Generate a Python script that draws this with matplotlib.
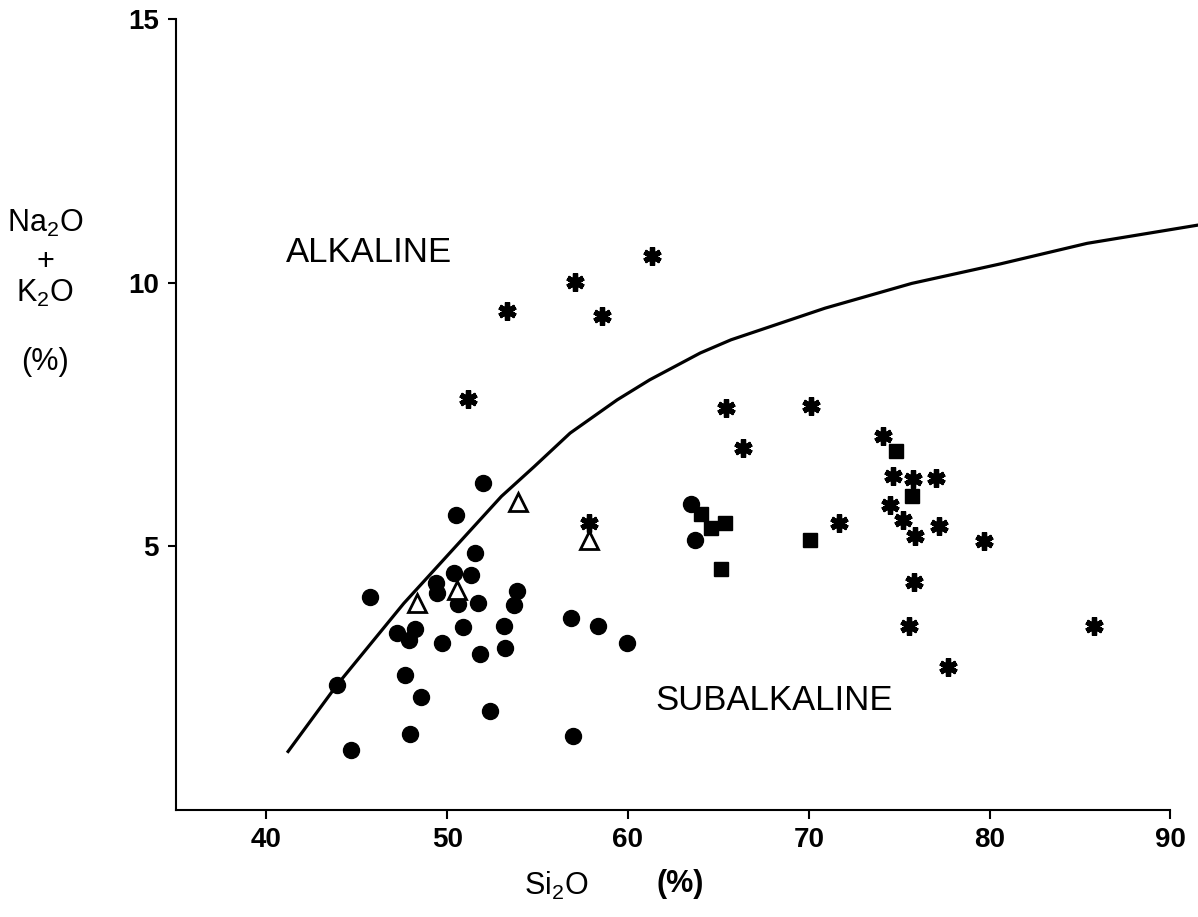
import matplotlib
matplotlib.use('Agg')
import matplotlib.pyplot as plt
from matplotlib.markers import MarkerStyle

plt.rcParams['font.family'] = ['Liberation Sans', 'DejaVu Sans']
plt.rcParams['mathtext.default'] = 'regular'

# dividing line alkaline / subalkaline
line_x = [41.2, 43.9, 47.6, 53.0, 54.8, 56.8, 59.4, 61.2, 64.0, 65.7, 70.9, 75.7, 80.6, 85.4, 91.6]
line_y = [1.11, 2.37, 3.92, 5.95, 6.51, 7.15, 7.78, 8.16, 8.67, 8.92, 9.52, 9.99, 10.36, 10.75, 11.10]

# filled circles
dot_x = [51.96, 50.49, 51.56, 50.36, 51.34, 49.40, 49.44, 50.60, 51.71, 53.87, 53.68, 45.71,
         47.23, 48.24, 47.91, 49.72, 50.86, 53.16, 53.22, 51.84, 56.85, 58.35, 59.95, 43.91,
         47.65, 48.57, 52.35, 47.96, 44.68, 56.94, 63.51, 63.73]
dot_y = [6.21, 5.60, 4.87, 4.49, 4.46, 4.30, 4.11, 3.90, 3.93, 4.16, 3.88, 4.04,
         3.36, 3.43, 3.23, 3.17, 3.47, 3.49, 3.07, 2.96, 3.65, 3.50, 3.17, 2.37,
         2.56, 2.15, 1.88, 1.44, 1.14, 1.40, 5.81, 5.12]

# open triangles
tri_x = [53.90, 57.86, 50.55, 48.34]
tri_y = [5.85, 5.12, 4.17, 3.92]

# filled squares
sq_x = [74.85, 75.73, 64.04, 65.39, 64.60, 70.09, 65.17]
sq_y = [6.81, 5.95, 5.62, 5.45, 5.35, 5.12, 4.57]

# asterisks
st_x = [61.33, 57.09, 53.31, 58.57, 51.13, 65.40, 70.13, 66.34, 74.11, 74.64, 75.75, 77.06,
        74.47, 75.19, 77.18, 75.90, 71.69, 57.83, 75.80, 75.53, 79.67, 85.80, 77.70]
st_y = [10.51, 10.02, 9.46, 9.37, 7.80, 7.62, 7.67, 6.86, 7.10, 6.34, 6.28, 6.29,
        5.79, 5.50, 5.39, 5.20, 5.44, 5.44, 4.32, 3.50, 5.10, 3.49, 2.72]

xticks = [40, 50, 60, 70, 80, 90]
yticks = [5, 10, 15]

fig = plt.figure(figsize=(11.98, 9.17), dpi=100)
ax = fig.add_axes([176/1198, 107/917, 1022/1198, 790.7/917])

ax.plot(line_x, line_y, color='black', lw=2.3)
ax.plot(dot_x, dot_y, 'o', color='black', ms=11.5, ls='none')
ax.plot(sq_x, sq_y, 's', color='black', ms=9.5, ls='none')
ax.plot(tri_x, tri_y, '^', mfc='white', mec='black', mew=2, ms=13, ls='none')
star = MarkerStyle((6, 2, 0), capstyle='round')
ax.plot(st_x, st_y, ls='none', marker=star, color='black', ms=13, mew=3.8)

ax.set_xlim(35, 91.53)
ax.set_ylim(0, 15)
ax.spines['top'].set_visible(False)
ax.spines['right'].set_visible(False)
ax.spines['bottom'].set_bounds(35, 90)
ax.spines['left'].set_linewidth(1.5)
ax.spines['bottom'].set_linewidth(1.5)

ax.set_xticks(xticks)
ax.set_xticklabels([str(t) for t in xticks], fontsize=20, fontweight='bold')
ax.set_yticks(yticks)
ax.set_yticklabels([str(t) for t in yticks], fontsize=20, fontweight='bold')
ax.tick_params(axis='x', direction='out', length=6.5, width=1.5, pad=6)
ax.tick_params(axis='y', direction='out', length=5.5, width=1.5, pad=7)

fig.text(286/1198, 1-253/917, 'ALKALINE', fontsize=25, va='center', ha='left')
fig.text(655/1198, 1-700/917, 'SUBALKALINE', fontsize=25, va='center', ha='left')

# y label, stacked
fig.text(45/1198, 1-223/917, r'Na$_2$O', fontsize=22, ha='center', va='center')
fig.text(45/1198, 1-262/917, '+', fontsize=22, ha='center', va='center')
fig.text(45/1198, 1-293/917, r'K$_2$O', fontsize=22, ha='center', va='center')
fig.text(45/1198, 1-362/917, '(%)', fontsize=22, ha='center', va='center')

# x label
fig.text(556/1198, 1-886/917, r'Si$_2$O', fontsize=22, ha='center', va='center')
fig.text(680/1198, 1-884/917, '(%)', fontsize=22, fontweight='bold', ha='center', va='center')

fig.savefig('out.png', dpi=100)
